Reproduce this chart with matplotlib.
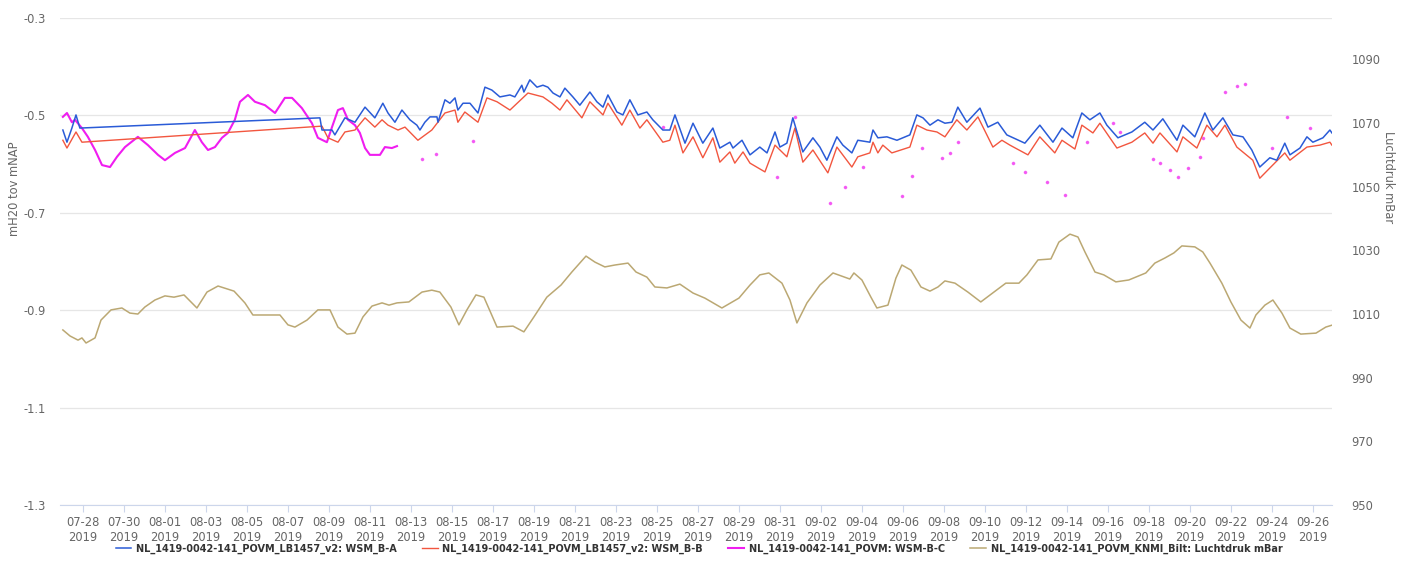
import matplotlib
matplotlib.use("Agg")
import matplotlib.pyplot as plt
import matplotlib.dates as mdates
import numpy as np
import pandas as pd

START = pd.Timestamp("2019-07-27 00:00")

# Groundwater level WSM_B-A (days since START, m H2O relative to NAP)
blue_days = [0.02, 0.22, 0.46, 0.66, 0.85,
             12.56, 12.66, 13.15, 13.29, 13.78, 14.27, 14.76, 15.24, 15.63, 15.88, 16.22, 16.56, 16.95,
             17.29, 17.44, 17.68, 17.93, 18.27, 18.32, 18.66, 18.90, 19.15, 19.29, 19.54, 19.88, 20.27,
             20.61, 20.95, 21.34, 21.83, 22.07, 22.41, 22.51, 22.80, 23.15, 23.44, 23.68, 23.93, 24.27,
             24.51, 24.90, 25.24, 25.73, 26.07, 26.37, 26.61, 27.05, 27.34, 27.68, 28.07, 28.51, 28.80,
             29.29, 29.63, 29.88, 30.37, 30.76, 31.24, 31.73, 32.07, 32.56, 32.71, 33.15, 33.54, 34.02,
             34.37, 34.76, 35.00, 35.34, 35.63, 35.98, 36.12, 36.61, 36.95, 37.29, 37.78, 38.07, 38.51,
             38.80, 39.39, 39.54, 39.78, 40.22, 40.71, 41.34, 41.68, 41.98, 42.32, 42.71, 43.05, 43.39,
             43.68, 44.12, 44.76, 45.15, 45.63, 46.07, 46.95, 47.68, 48.32, 48.76, 49.29, 49.73, 50.12,
             50.61, 50.95, 51.49, 52.17, 52.80, 53.20, 53.68, 54.37, 54.66, 55.24, 55.73, 56.12, 56.61,
             57.10, 57.59, 58.02, 58.41, 58.90, 59.24, 59.63, 59.88, 60.37, 60.71, 61.00, 61.49, 61.83,
             61.93]
blue_vals = [-0.530, -0.555, -0.526, -0.499, -0.526,
             -0.505, -0.530, -0.530, -0.540, -0.505, -0.514, -0.483, -0.505, -0.475, -0.495, -0.514, -0.489, -0.509,
             -0.520, -0.530, -0.514, -0.503, -0.503, -0.514, -0.468, -0.475, -0.464, -0.489, -0.475, -0.475, -0.495,
             -0.442, -0.448, -0.462, -0.458, -0.462, -0.438, -0.452, -0.427, -0.442, -0.438, -0.442, -0.454, -0.462,
             -0.444, -0.462, -0.479, -0.452, -0.472, -0.483, -0.458, -0.493, -0.499, -0.468, -0.499, -0.493, -0.509,
             -0.530, -0.530, -0.499, -0.557, -0.516, -0.557, -0.526, -0.567, -0.555, -0.567, -0.551, -0.581, -0.565,
             -0.577, -0.534, -0.565, -0.557, -0.505, -0.555, -0.575, -0.546, -0.565, -0.592, -0.544, -0.561, -0.577,
             -0.551, -0.555, -0.530, -0.546, -0.544, -0.551, -0.540, -0.499, -0.505, -0.520, -0.509, -0.516, -0.514,
             -0.483, -0.514, -0.485, -0.524, -0.514, -0.540, -0.557, -0.520, -0.555, -0.526, -0.546, -0.495, -0.509,
             -0.495, -0.520, -0.546, -0.534, -0.514, -0.530, -0.507, -0.551, -0.520, -0.544, -0.495, -0.530, -0.505,
             -0.540, -0.544, -0.571, -0.606, -0.587, -0.592, -0.557, -0.581, -0.567, -0.544, -0.555, -0.546, -0.530,
             -0.536]

# Groundwater level WSM_B-B
red_days = [0.02, 0.22, 0.66, 0.95,
            12.66, 12.95, 13.44, 13.78, 14.27, 14.76, 15.24, 15.59, 15.88, 16.37, 16.71, 17.34, 18.02,
            18.66, 19.15, 19.29, 19.63, 20.27, 20.71, 21.20, 21.83, 22.71, 23.44, 23.88, 24.27, 24.61,
            25.34, 25.73, 26.37, 26.61, 27.29, 27.68, 28.17, 28.51, 29.29, 29.63, 29.88, 30.27, 30.76,
            31.24, 31.73, 32.07, 32.56, 32.80, 33.20, 33.54, 34.27, 34.76, 35.34, 35.73, 36.12, 36.61,
            37.34, 37.78, 38.51, 38.80, 39.39, 39.54, 39.78, 40.02, 40.46, 41.34, 41.68, 42.17, 42.66,
            43.05, 43.63, 44.12, 44.66, 45.39, 45.83, 46.22, 47.10, 47.68, 48.41, 48.76, 49.39, 49.73,
            50.27, 50.61, 51.44, 52.17, 52.80, 53.20, 53.54, 54.37, 54.66, 55.34, 55.83, 56.32, 56.71,
            57.29, 58.07, 58.41, 58.90, 59.63, 59.88, 60.71, 61.34, 61.83, 61.93]
red_vals = [-0.551, -0.567, -0.534, -0.555,
            -0.522, -0.546, -0.555, -0.534, -0.530, -0.505, -0.524, -0.509, -0.520, -0.530, -0.524, -0.551, -0.530,
            -0.495, -0.489, -0.514, -0.493, -0.514, -0.464, -0.472, -0.489, -0.454, -0.462, -0.475, -0.489, -0.468,
            -0.505, -0.472, -0.499, -0.475, -0.520, -0.489, -0.526, -0.509, -0.555, -0.551, -0.520, -0.577, -0.544,
            -0.587, -0.546, -0.596, -0.575, -0.598, -0.575, -0.598, -0.616, -0.561, -0.585, -0.526, -0.596, -0.571,
            -0.618, -0.565, -0.606, -0.585, -0.577, -0.555, -0.577, -0.561, -0.577, -0.565, -0.520, -0.530, -0.534,
            -0.544, -0.509, -0.530, -0.503, -0.565, -0.551, -0.561, -0.581, -0.544, -0.577, -0.551, -0.569, -0.520,
            -0.536, -0.516, -0.567, -0.555, -0.536, -0.557, -0.536, -0.575, -0.544, -0.567, -0.520, -0.544, -0.520,
            -0.565, -0.592, -0.629, -0.608, -0.577, -0.592, -0.565, -0.561, -0.555, -0.561]

# Groundwater level WSM-B-C: continuous record, then isolated readings
mag_days = [0.02, 0.22, 0.46, 0.61, 0.95, 1.24, 1.59, 1.93, 2.32, 2.66, 3.05, 3.68, 4.17, 4.66, 5.00,
            5.49, 5.98, 6.46, 6.80, 7.10, 7.44, 7.78, 8.07, 8.41, 8.66, 9.05, 9.39, 9.88, 10.37, 10.85,
            11.20, 11.68, 12.17, 12.46, 12.90, 13.15, 13.44, 13.68, 13.93, 14.27, 14.51, 14.76, 15.00,
            15.49, 15.73, 16.07, 16.32]
mag_vals = [-0.503, -0.495, -0.514, -0.509, -0.526, -0.544, -0.571, -0.602, -0.606, -0.585, -0.565, -0.544,
            -0.561, -0.581, -0.592, -0.577, -0.567, -0.530, -0.555, -0.571, -0.565, -0.546, -0.536, -0.509,
            -0.472, -0.458, -0.472, -0.479, -0.495, -0.464, -0.464, -0.485, -0.516, -0.546, -0.555, -0.524,
            -0.489, -0.485, -0.509, -0.520, -0.536, -0.567, -0.581, -0.581, -0.565, -0.567, -0.563]
mag_pt_days = [17.54, 18.22, 20.02, 29.29, 34.85, 35.73, 37.44, 38.17, 39.05, 40.95, 41.44, 41.93, 42.90,
               43.29, 43.68, 46.37, 46.95, 48.02, 48.90, 49.98, 51.24, 51.59, 53.20, 53.54, 54.02, 54.41,
               54.90, 55.49, 55.63, 56.71, 57.29, 57.68, 59.00, 59.73, 60.85]
mag_pt_vals = [-0.590, -0.579, -0.553, -0.524, -0.626, -0.503, -0.680, -0.647, -0.606, -0.665, -0.624,
               -0.567, -0.587, -0.577, -0.555, -0.598, -0.616, -0.637, -0.663, -0.555, -0.516, -0.534,
               -0.590, -0.598, -0.612, -0.626, -0.608, -0.585, -0.546, -0.452, -0.440, -0.436, -0.567,
               -0.503, -0.526]

# Air pressure De Bilt (mBar)
pres_days = [0.02, 0.37, 0.76, 0.95, 1.15, 1.59, 1.88, 2.37, 2.90, 3.29, 3.68, 4.02, 4.51, 5.00, 5.44,
             5.93, 6.56, 7.05, 7.59, 8.37, 8.90, 9.29, 9.78, 10.61, 11.00, 11.34, 11.93, 12.46, 13.05,
             13.44, 13.88, 14.27, 14.66, 15.10, 15.59, 15.93, 16.32, 16.90, 17.54, 18.02, 18.41, 18.95,
             19.34, 19.73, 20.17, 20.56, 21.20, 21.98, 22.51, 23.00, 23.63, 24.32, 24.85, 25.54, 25.98,
             26.46, 26.95, 27.59, 27.98, 28.51, 28.90, 29.49, 30.12, 30.76, 31.34, 32.17, 33.00, 33.54,
             34.02, 34.46, 35.10, 35.49, 35.83, 36.32, 36.95, 37.59, 38.41, 38.61, 39.00, 39.44, 39.73,
             40.27, 40.66, 40.95, 41.39, 41.88, 42.32, 42.71, 43.05, 43.54, 44.17, 44.80, 45.44, 46.02,
             46.66, 47.05, 47.59, 48.22, 48.61, 49.15, 49.54, 49.88, 50.37, 50.80, 51.39, 52.02, 52.85,
             53.29, 53.78, 54.22, 54.61, 55.24, 55.63, 55.98, 56.56, 57.00, 57.49, 57.93, 58.22, 58.66,
             59.05, 59.49, 59.88, 60.41, 61.15, 61.63, 61.98]
pres_vals = [1005.0, 1003.1, 1001.8, 1002.5, 1000.9, 1002.5, 1008.1, 1011.3, 1011.9, 1010.3, 1010.0,
             1012.2, 1014.4, 1015.7, 1015.3, 1016.0, 1011.9, 1016.9, 1018.8, 1017.2, 1013.5, 1009.7,
             1009.7, 1009.7, 1006.6, 1005.9, 1008.1, 1011.3, 1011.3, 1005.9, 1003.7, 1004.0, 1009.1,
             1012.5, 1013.5, 1012.8, 1013.5, 1013.8, 1016.9, 1017.5, 1016.9, 1012.2, 1006.6, 1011.3,
             1016.0, 1015.3, 1005.9, 1006.2, 1004.4, 1009.1, 1015.3, 1019.1, 1023.2, 1028.2, 1026.3,
             1024.8, 1025.4, 1026.0, 1023.2, 1021.6, 1018.5, 1018.2, 1019.4, 1016.6, 1015.0, 1011.9,
             1015.0, 1019.1, 1022.3, 1022.9, 1019.7, 1014.4, 1007.2, 1013.5, 1019.1, 1022.9, 1021.0,
             1022.9, 1020.7, 1015.3, 1011.9, 1012.8, 1021.3, 1025.4, 1023.8, 1018.5, 1017.2, 1018.5,
             1020.4, 1019.7, 1016.9, 1013.8, 1016.9, 1019.7, 1019.7, 1022.3, 1027.0, 1027.3, 1032.6,
             1035.1, 1034.2, 1029.5, 1023.2, 1022.3, 1020.1, 1020.7, 1022.9, 1026.0, 1027.6, 1029.2,
             1031.4, 1031.1, 1029.5, 1026.0, 1019.7, 1013.8, 1008.1, 1005.6, 1009.7, 1012.8, 1014.4,
             1010.3, 1005.6, 1003.7, 1004.0, 1005.9, 1006.6]

LABELS = ["NL_1419-0042-141_POVM_LB1457_v2: WSM_B-A",
          "NL_1419-0042-141_POVM_LB1457_v2: WSM_B-B",
          "NL_1419-0042-141_POVM: WSM-B-C",
          "NL_1419-0042-141_POVM_KNMI_Bilt: Luchtdruk mBar"]
COLORS = ["#2a5bd7", "#f2563f", "#f01df0", "#bba873"]


def to_dates(days):
    return START + pd.to_timedelta(np.asarray(days), unit="D")


plt.rcParams["font.family"] = ["DejaVu Sans"]
fig = plt.figure(figsize=(14.05, 5.63), dpi=100)
ax = fig.add_axes([0.0427, 0.103, 0.9053, 0.865])
ax2 = ax.twinx()

ax.plot(to_dates(blue_days), blue_vals, color=COLORS[0], lw=1.1, label=LABELS[0], zorder=4)
ax.plot(to_dates(red_days), red_vals, color=COLORS[1], lw=1.0, label=LABELS[1], zorder=3)
ax.plot(to_dates(mag_days), mag_vals, color=COLORS[2], lw=1.5, label=LABELS[2], zorder=2)
ax.plot(to_dates(mag_pt_days), mag_pt_vals, linestyle="none", marker="o", markersize=1.6,
        color=COLORS[2], alpha=0.6, zorder=2)
ax2.plot(to_dates(pres_days), pres_vals, color=COLORS[3], lw=1.1, label=LABELS[3])

# left axis: water level
ax.set_ylim(-1.3, -0.3)
ax.set_yticks(np.arange(-1.3, -0.29, 0.2))
ax.yaxis.set_major_formatter(matplotlib.ticker.FormatStrFormatter("%.1f"))
ax.grid(axis="y", color="#e6e6e6", lw=0.9)
ax.set_axisbelow(True)

# right axis: air pressure
ax2.set_ylim(950, 1103)
ax2.set_yticks(np.arange(950, 1091, 20))

ax.set_xlim(START + pd.Timedelta(days=-0.12), START + pd.Timedelta(days=61.93))
ticks = pd.date_range("2019-07-28", "2019-09-26", freq="2D")
ax.set_xticks(ticks)
ax.xaxis.set_major_formatter(mdates.DateFormatter("%m-%d\n%Y"))

for a in (ax, ax2):
    for s in ("top", "left", "right"):
        a.spines[s].set_visible(False)
ax2.spines["bottom"].set_visible(False)
ax.spines["bottom"].set_color("#ccd6eb")

ax.tick_params(axis="x", colors="#666666", labelsize=8.3, length=5, width=0.8, color="#ccd6eb", pad=3)
ax.tick_params(axis="y", colors="#666666", labelsize=8.3, length=0, pad=26)
ax2.tick_params(axis="y", colors="#666666", labelsize=8.3, length=0, pad=14)
for lbl in ax.get_yticklabels():
    lbl.set_horizontalalignment("left")

fig.text(0.010, 0.665, "mH20 tov mNAP", rotation=90, ha="center", va="center",
         fontsize=8.3, color="#666666")
fig.text(0.988, 0.685, "Luchtdruk mBar", rotation=270, ha="center", va="center",
         fontsize=8.3, color="#666666")

handles = ax.get_legend_handles_labels()[0] + ax2.get_legend_handles_labels()[0]
fig.legend(handles, LABELS, loc="center", bbox_to_anchor=(0.4975, 0.025), ncol=4, frameon=False,
           prop={"weight": "bold", "size": 7.0}, labelcolor="#333333", handlelength=1.6,
           handletextpad=0.5, columnspacing=2.6)

fig.savefig("out.png", dpi=100, facecolor="white")
